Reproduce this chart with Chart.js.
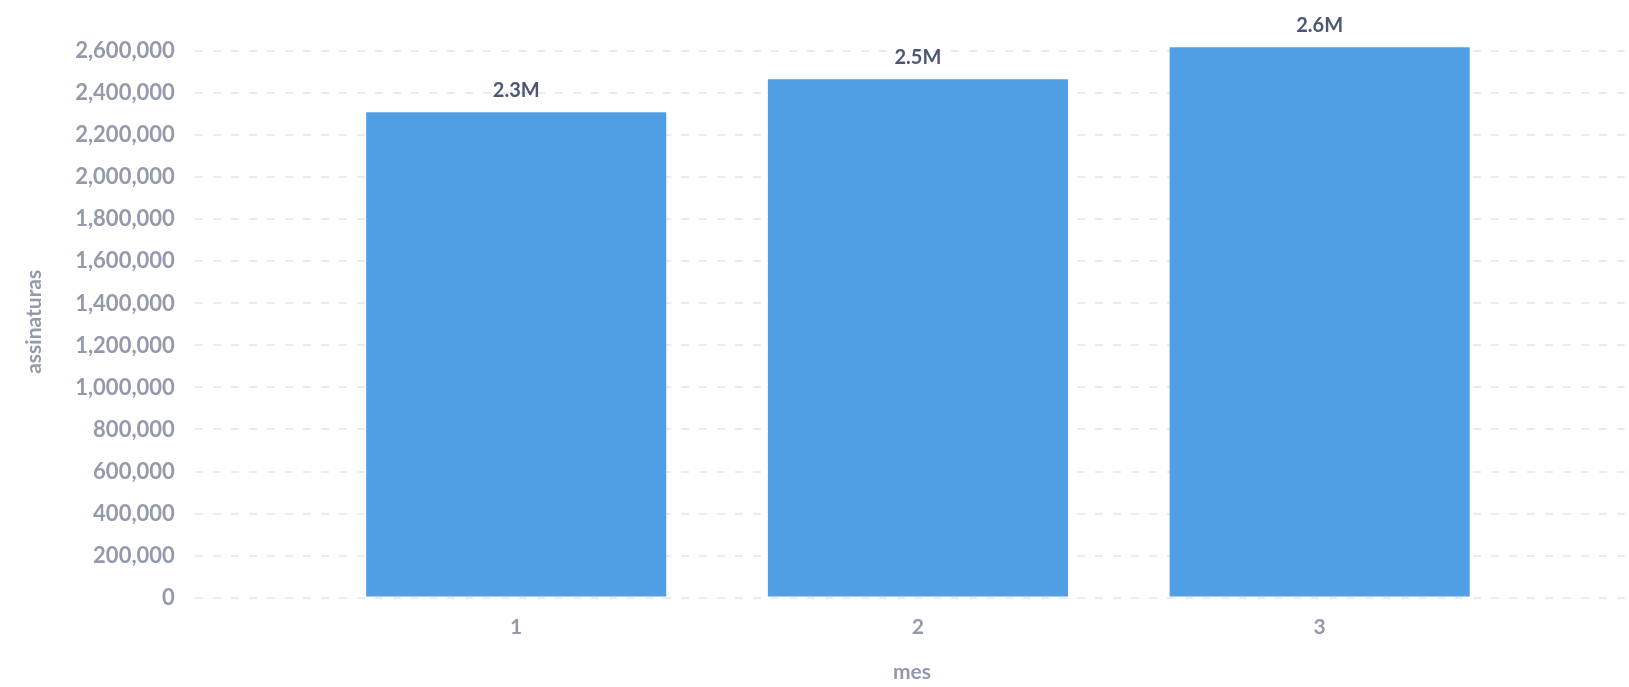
<!DOCTYPE html>
<html>
<head>
<meta charset="utf-8">
<script src="https://cdn.jsdelivr.net/npm/chart.js@4"></script>
<style>
  html, body { margin: 0; padding: 0; background: #fff; }
  #wrap { width: 1629px; height: 687px; }
</style>
</head>
<body>
<div id="wrap"><canvas id="chart"></canvas></div>
<script>
const meses = [1, 2, 3];
const assinaturas = [2310000, 2467000, 2619000];
const rotulos = ['2.3M', '2.5M', '2.6M'];
const yTicks = [0, 200000, 400000, 600000, 800000, 1000000, 1200000,
  1400000, 1600000, 1800000, 2000000, 2200000, 2400000, 2600000];

const labelColor = '#949aab';

// value labels above each bar
const valueLabels = {
  id: 'valueLabels',
  afterDatasetsDraw(chart) {
    const ctx = chart.ctx;
    const meta = chart.getDatasetMeta(0);
    ctx.save();
    ctx.font = 'bold 20px Lato';
    ctx.fillStyle = '#4c5773';
    ctx.textAlign = 'center';
    ctx.textBaseline = 'bottom';
    meta.data.forEach((bar, i) => {
      ctx.fillText(rotulos[i], bar.x, bar.y - 12);
    });
    ctx.restore();
  }
};

new Chart(document.getElementById('chart'), {
  type: 'bar',
  data: {
    datasets: [{
      data: meses.map((m, i) => ({ x: m, y: assinaturas[i] })),
      backgroundColor: '#509ee3',
      borderWidth: 0,
      categoryPercentage: 1,
      barPercentage: 0.747
    }]
  },
  options: {
    responsive: true,
    maintainAspectRatio: false,
    animation: false,
    layout: { padding: { top: 46, left: 22, right: 0, bottom: 0 } },
    plugins: {
      legend: { display: false },
      tooltip: { enabled: false }
    },
    scales: {
      x: {
        type: 'linear',
        offset: false,
        min: 0.2,
        max: 3.77,
        grid: { display: false, drawTicks: false, offset: false },
        border: { display: false },
        afterBuildTicks: s => { s.ticks = meses.map(v => ({ value: v })); },
        ticks: {
          padding: 17,
          color: labelColor,
          font: { family: 'Lato', size: 21, weight: 'bold' }
        },
        title: {
          display: true,
          text: 'mes',
          color: labelColor,
          font: { family: 'Lato', size: 21, weight: 'bold' },
          padding: { top: 3, bottom: 2 }
        }
      },
      y: {
        min: 0,
        max: 2625000,
        grid: {
          color: '#e9ecf0',
          lineWidth: 2,
          drawTicks: false
        },
        border: { display: false, dash: [8, 10] },
        afterBuildTicks: s => { s.ticks = yTicks.map(v => ({ value: v })); },
        ticks: {
          padding: 20,
          color: labelColor,
          font: { family: 'Lato', size: 22, weight: 'bold' },
          callback: v => v.toLocaleString('en-US')
        },
        title: {
          display: true,
          text: 'assinaturas',
          color: labelColor,
          font: { family: 'Lato', size: 21, weight: 'bold' },
          padding: { top: 0, bottom: 8 }
        }
      }
    }
  },
  plugins: [valueLabels]
});
</script>
</body>
</html>
